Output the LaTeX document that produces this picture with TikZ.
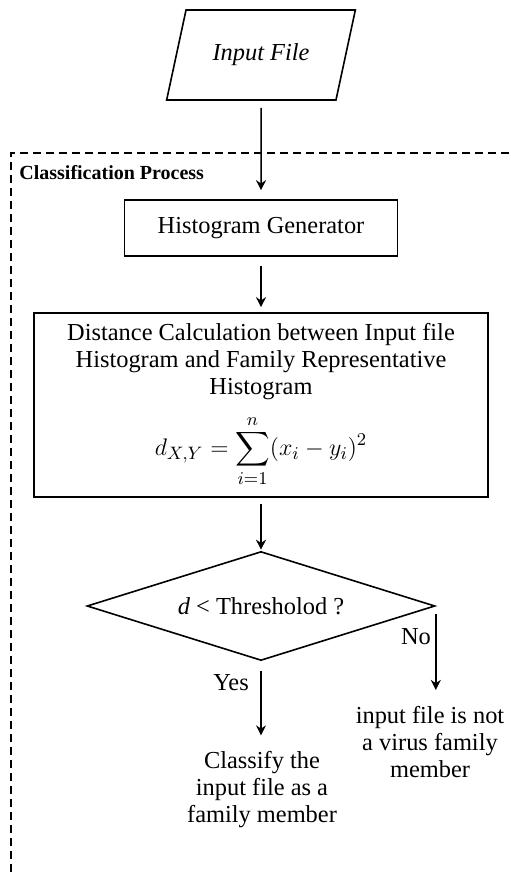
\documentclass[tikz,border=0pt]{standalone}
\usepackage{amsmath}
\usepackage{fontspec}
\setmainfont{Liberation Serif}
\usetikzlibrary{arrows.meta,positioning,shapes.geometric}
\newcommand{\mainsize}{\fontsize{12.2}{13.5}\selectfont}
\tikzset{
  box/.style={draw,line width=0.8pt,align=center,font=\mainsize,inner sep=3pt},
  iobox/.style={box,trapezium,trapezium left angle=67.6,trapezium right angle=112.4,
    trapezium stretches=true,minimum width=95pt,minimum height=45pt,font=\mainsize\itshape},
  decision/.style={box,diamond,aspect=3.2,minimum width=174pt,minimum height=54.5pt,inner sep=0pt},
  note/.style={align=center,font=\mainsize,inner sep=2pt},
  frametitle/.style={font=\fontsize{10}{12}\selectfont\bfseries,anchor=west,inner sep=0pt},
  frame/.style={line width=0.6pt,dash pattern=on 4pt off 2.5pt},
  arr/.style={-{Stealth[length=5pt,width=5pt]},line width=0.75pt},
}

\begin{document}
\begin{tikzpicture}[x=0.5pt,y=-0.5pt]
  \useasboundingbox (0,0) rectangle (510,872);
  \node[iobox] (input) at (261,55) {Input File};
  \draw[frame] (11,872) -- (11,153) -- (510,153);
  \node[frametitle] (proc) at (19,173) {Classification Process};
  \node[box,minimum width=136.5pt,minimum height=28pt] (hist) at (261,228) {Histogram Generator};
  \node[box,minimum width=227pt,minimum height=92pt] (dist) at (261,405)
    {Distance Calculation between Input file\\Histogram and Family Representative\\Histogram\\[7pt]
     $\displaystyle d_{X,Y}=\sum_{i=1}^{n}(x_i-y_i)^2$};
  \node[decision] (thr) at (261,606) {\textit{d} < Thresholod ?};
  \node[note] (member) at (262,790) {Classify the\\input file as a\\family member};
  \node[note] (nonmember) at (430,742) {input file is not\\a virus family\\member};
  \node[note] (yes) at (231,683) {Yes};
  \node[note] (no) at (416,637) {No};
  \draw[arr,shorten <=3.5pt,shorten >=4.5pt] (input) -- (hist);
  \draw[arr,shorten <=4.5pt,shorten >=2.5pt] (hist) -- (dist);
  \draw[arr,shorten <=3pt,shorten >=0.5pt] (dist) -- (thr);
  \draw[arr,shorten <=5pt,shorten >=6pt] (thr.south) -- (member.north -| thr.south);
  \draw[arr,shorten <=4pt,shorten >=6pt] (thr.east) -- (thr.east |- nonmember.north);
\end{tikzpicture}
\end{document}
